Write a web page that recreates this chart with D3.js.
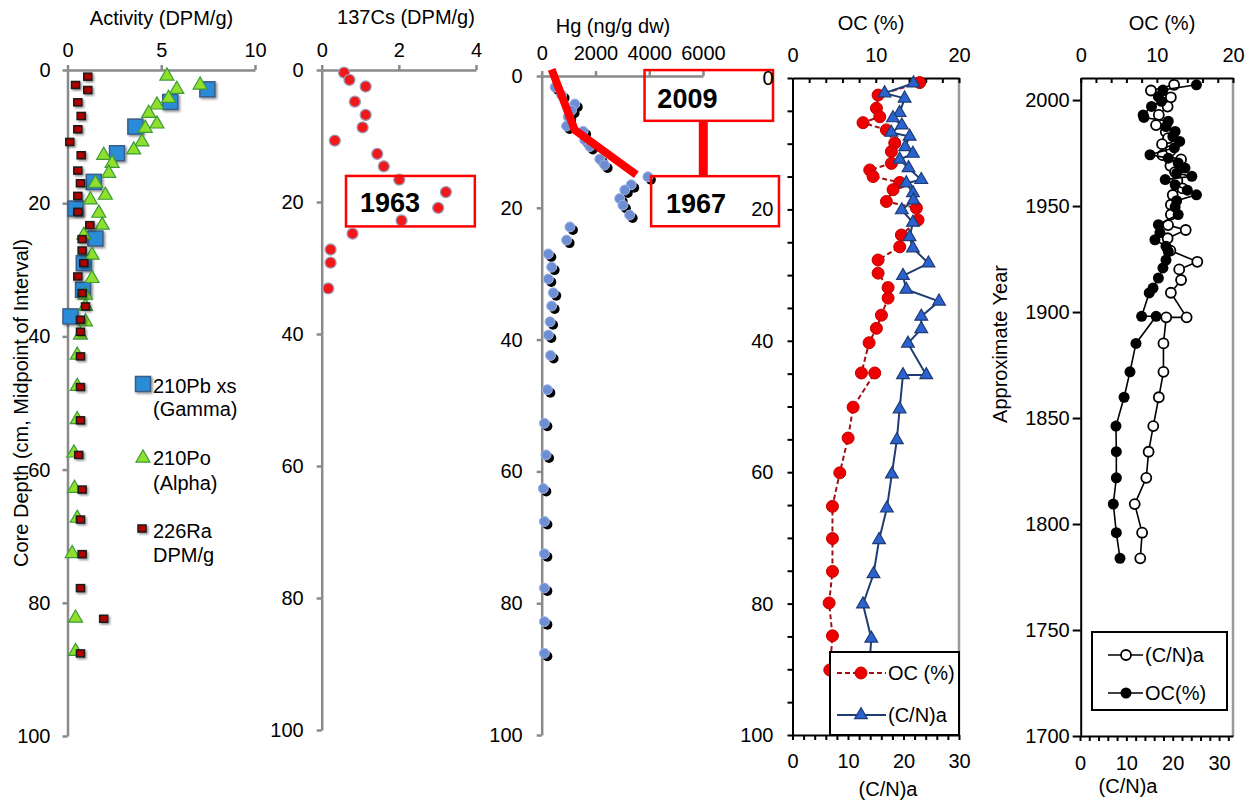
<!DOCTYPE html>
<html>
<head>
<meta charset="utf-8">
<script src="https://cdn.jsdelivr.net/npm/d3@7"></script>
<style>
  body { margin: 0; background: #fff; }
  svg { font-family: "Liberation Sans", Arial, sans-serif; }
</style>
</head>
<body>
<svg id="chart" width="1255" height="804"></svg>
<script>
// ---- data ----
// panel 1: activity vs depth
var pbDepth = [2.9, 4.8, 8.5, 12.5, 16.8, 20.8, 25.3, 29, 33, 37];
var pbAct = [7.46, 5.48, 3.62, 2.64, 1.40, 0.43, 1.49, 0.87, 0.83, 0.16];
var poDepth = [0.9, 2.25, 2.9, 4.25, 5.25, 6.5, 8.1, 8.75, 10.8, 12, 12.8, 14, 15.5, 17, 18.8, 19.5, 21.5, 23.3, 24.8, 27.8,
  31.3, 33.8, 35.5, 37.8, 39.8, 42.8, 47.5, 52.5, 57.5, 62.8, 67.3, 72.6, 82.3, 87.3];
var poAct = [5.30, 7.07, 5.83, 5.39, 4.77, 4.33, 4.77, 4.15, 3.97, 3.53, 1.93, 2.38, 2.20, 1.49, 2.02, 1.22, 1.67, 1.85, 0.87, 1.31,
  1.31, 0.96, 0.96, 0.96, 0.69, 0.52, 0.52, 0.52, 0.34, 0.37, 0.52, 0.25, 0.43, 0.43];
var raDepth = [1.0, 2.25, 3.0, 4.85, 6.9, 8.9, 10.8, 12.8, 15.1, 17, 18.9, 21.3, 23.3, 25.4, 27.1, 29, 31, 33.5, 35.5, 37.5,
  39.3, 43, 47.6, 52.6, 57.8, 63, 67.5, 72.7, 77.8, 82.4, 87.6];
var raAct = [1.08, 0.43, 1.08, 0.55, 0.73, 0.55, 0.12, 0.73, 0.55, 0.69, 0.55, 0.55, 1.19, 0.78, 0.78, 0.87, 0.55, 0.78, 0.96, 0.69,
  0.69, 0.69, 0.69, 0.69, 0.60, 0.78, 0.69, 0.78, 0.69, 1.93, 0.69];

// panel 2: 137Cs
var csDepth = [0.4, 1.5, 2.5, 4.8, 6.8, 8.7, 10.7, 12.7, 14.6, 16.6, 18.5, 20.9, 22.8, 24.8, 27.2, 29.2, 33.1];
var csAct = [0.58, 0.72, 1.14, 0.86, 1.14, 1.06, 0.34, 1.44, 1.61, 2.01, 3.22, 3.02, 2.07, 0.80, 0.23, 0.23, 0.17];

// panel 3: Hg
var hgDepth = [1.7, 2.9, 4.25, 5.2, 6.2, 7.6, 8.4, 9.7, 10.7, 12.6, 13.5, 15.3, 16.5, 17.3, 18.6, 19.6, 21.1, 22.9, 24.9, 27,
  29, 30.8, 32.9, 34.9, 37.3, 39.3, 42.4, 47.6, 52.7, 57.5, 62.6, 67.6, 72.5, 77.7, 82.8, 87.6];
var hgConc = [500, 740, 1230, 1110, 985, 925, 1540, 1600, 1790, 2160, 2340, 3950, 3330, 3090, 2900, 3020, 3270, 1050, 925, 245,
  370, 245, 430, 370, 310, 245, 330, 210, 100, 160, 60, 100, 100, 100, 100, 100];
var hgTrendConc = [370, 1230, 3520];
var hgTrendDepth = [-1, 8.2, 15];

// panel 4: OC and (C/N)a vs depth
var ocDepth = [0.7, 2.6, 4.6, 5.9, 6.8, 7.9, 9.9, 11.2, 13, 14, 15, 15.9, 17, 18.8, 19.8, 21.6, 23.9, 25.7, 27.7, 29.7,
  31.9, 33.5, 36.1, 38.1, 40.3, 44.9, 44.9, 50.1, 54.8, 60.1, 65.2, 70.1, 75.1, 79.9, 84.9, 90.1];
var ocPct = [15.28, 10.28, 10.08, 10.48, 8.47, 11.28, 12.28, 11.88, 11.88, 9.28, 9.68, 12.88, 12.08, 11.28, 14.88, 15.08, 13.08, 12.88, 10.28, 10.28,
  11.48, 11.48, 10.68, 10.08, 9.2, 8.28, 9.88, 7.28, 6.68, 5.68, 4.8, 4.8, 4.8, 4.4, 4.8, 4.48];
var cnDepth = [0.8, 2.3, 3.1, 5.3, 6.1, 7.2, 8.3, 8.9, 10.5, 11.5, 12.4, 13.7, 15.5, 16, 17.5, 18.6, 20.1, 22, 24.2, 25.9,
  28.2, 30.1, 32.2, 34, 36.3, 38.2, 40.4, 45.2, 45.2, 50.4, 55.1, 60.3, 65.5, 70.3, 75.5, 80.1, 85.3, 90.1];
var cnRatio = [21.8, 16.6, 20.2, 19.3, 18.1, 19.7, 17.8, 21.1, 20.3, 21.7, 19.3, 20.9, 23.2, 20.5, 21.7, 21.8, 19.7, 21.7, 21.1, 21.7,
  24.5, 19.9, 20.5, 26.4, 23.2, 23.2, 20.8, 24.1, 19.9, 19.3, 18.8, 17.9, 17.0, 15.6, 14.6, 12.7, 14.2, 13.8];

// panel 5: OC and (C/N)a vs approximate year
var ocYear = [2007.2, 2004.7, 2001.6, 1999.4, 1997.0, 1993.0, 1991.8, 1990.0, 1987.5, 1985.2, 1982.8, 1980.5, 1977.5, 1974.2, 1972.6,
  1970.3, 1967.9, 1965.5, 1964.0, 1962.5, 1960.0, 1957.5, 1955.3, 1952.5, 1949.5, 1946.0, 1941.2, 1937.5, 1934.1, 1931.0,
  1928.6, 1924.5, 1920.8, 1916.0, 1911.3, 1909.0, 1898.0, 1898.0, 1885.2, 1871.8, 1859.8, 1846.2, 1834.1, 1821.8, 1809.4, 1795.9, 1783.8];
var ocYearPct = [15.2, 10.8, 10.2, 10.6, 9.3, 8.2, 8.3, 11.5, 11.2, 12.4, 12.1, 13.0, 12.3, 9.1, 11.5,
  12.8, 13.7, 12.6, 14.6, 11.1, 12.4, 14.0, 15.2, 12.6, 12.4, 12.8, 10.2, 10.4, 9.75, 11.2,
  11.5, 11.2, 10.8, 10.2, 9.5, 9.0, 8.0, 9.9, 7.26, 6.47, 5.7, 4.63, 4.68, 4.68, 4.28, 4.68, 5.16];
var cnYear = [2007.2, 2004.5, 2001.3, 1996.9, 1993.0, 1988.2, 1985.0, 1982.0, 1979.2, 1976.0, 1974.0, 1972.0, 1969.0, 1966.0, 1962.0,
  1958.3, 1955.2, 1950.6, 1946.0, 1941.0, 1938.7, 1934.8, 1929.0, 1923.7, 1920.1, 1915.1, 1909.1, 1897.5, 1897.5, 1885.2,
  1871.8, 1859.8, 1846.2, 1834.1, 1821.8, 1809.4, 1795.9, 1783.8];
var cnYearRatio = [20.3, 15.3, 19.6, 18.9, 17.0, 16.4, 18.5, 19.0, 17.7, 19.5, 17.8, 21.8, 19.5, 20.5, 21.0,
  22.1, 20.0, 19.6, 19.6, 19.0, 22.8, 18.9, 19.5, 25.3, 21.4, 21.8, 19.6, 23.0, 18.6, 18.0,
  18.0, 17.0, 15.8, 14.8, 14.3, 11.8, 13.4, 13.0];

var depthTicks = [0, 20, 40, 60, 80, 100];

// ---- helpers ----
var svg = d3.select('#chart');
var FONT = 'Liberation Sans, Arial, sans-serif';
var plain = d3.format('d');

svg.append('defs').append('filter').attr('id', 'shadow')
  .attr('x', '-50%').attr('y', '-50%').attr('width', '200%').attr('height', '200%')
  .append('feDropShadow').attr('dx', 1.5).attr('dy', 1.5).attr('stdDeviation', 1)
  .attr('flood-color', '#000').attr('flood-opacity', 0.45);

function zip(a, b) {
  return a.map(function(v, i) { return [v, b[i]]; });
}

function styleAxis(g, color, width) {
  g.attr('font-size', 20).attr('font-family', FONT);
  g.select('.domain').attr('stroke', color).attr('stroke-width', width);
  g.selectAll('.tick line').attr('stroke', color).attr('stroke-width', width);
  g.selectAll('.tick text').attr('fill', '#000');
}

function label(txt, x, y, opts) {
  opts = opts || {};
  var t = svg.append('text').text(txt)
    .attr('x', x).attr('y', y)
    .attr('font-size', opts.size || 20)
    .attr('font-weight', opts.weight || 'normal')
    .attr('text-anchor', opts.anchor || 'middle')
    .attr('fill', '#000');
  if (opts.rotate) t.attr('x', 0).attr('y', 0).attr('transform', 'translate(' + x + ',' + y + ') rotate(-90)');
  return t;
}

// ---- panel 1: Activity ----
var x1 = d3.scaleLinear().domain([0, 10]).range([67.5, 255]);
var y1 = d3.scaleLinear().domain([0, 100]).range([70, 736]);

svg.append('g').attr('transform', 'translate(0,' + y1(0) + ')')
  .call(d3.axisTop(x1).tickValues([0, 5, 10]).tickFormat(plain).tickSize(5).tickSizeOuter(0).tickPadding(8))
  .call(styleAxis, '#8a8a8a', 2.5);
svg.append('g').attr('transform', 'translate(' + x1(0) + ',0)')
  .call(d3.axisLeft(y1).tickValues(depthTicks).tickFormat(plain).tickSize(5).tickSizeOuter(0).tickPadding(12))
  .call(styleAxis, '#8a8a8a', 2.5);

var tri = d3.symbol().type(d3.symbolTriangle);

svg.append('g').selectAll('rect').data(zip(pbAct, pbDepth)).enter().append('rect')
  .attr('x', function(d) { return x1(d[0]) - 7.5; })
  .attr('y', function(d) { return y1(d[1]) - 7.5; })
  .attr('width', 15).attr('height', 15)
  .attr('fill', '#2b8bd6').attr('stroke', '#3a5c88').attr('stroke-width', 1.5)
  .attr('filter', 'url(#shadow)');

svg.append('g').selectAll('path').data(zip(poAct, poDepth)).enter().append('path')
  .attr('d', tri.size(85)())
  .attr('transform', function(d) { return 'translate(' + x1(d[0]) + ',' + y1(d[1]) + ')'; })
  .attr('fill', '#8fe02c').attr('stroke', '#3c9a3a').attr('stroke-width', 1.2);

svg.append('g').selectAll('rect').data(zip(raAct, raDepth)).enter().append('rect')
  .attr('x', function(d) { return x1(d[0]) - 4; })
  .attr('y', function(d) { return y1(d[1]) - 3.5; })
  .attr('width', 8).attr('height', 7)
  .attr('fill', '#b30000').attr('stroke', '#1a1a1a').attr('stroke-width', 1.5)
  .attr('filter', 'url(#shadow)');

label('Activity (DPM/g)', 161.5, 25);
label('Core Depth (cm, Midpoint of Interval)', 28, 403, { rotate: true });

// legend of panel 1
svg.append('rect').attr('x', 135.5).attr('y', 376.5).attr('width', 15).attr('height', 15)
  .attr('fill', '#2b8bd6').attr('stroke', '#3a5c88').attr('stroke-width', 1.5).attr('filter', 'url(#shadow)');
svg.append('path').attr('d', tri.size(85)()).attr('transform', 'translate(143,458)')
  .attr('fill', '#8fe02c').attr('stroke', '#3c9a3a').attr('stroke-width', 1.2);
svg.append('rect').attr('x', 138).attr('y', 525).attr('width', 8).attr('height', 7)
  .attr('fill', '#b30000').attr('stroke', '#1a1a1a').attr('stroke-width', 1.5).attr('filter', 'url(#shadow)');
label('210Pb xs', 153, 393, { anchor: 'start' });
label('(Gamma)', 153, 416, { anchor: 'start' });
label('210Po', 153, 465, { anchor: 'start' });
label('(Alpha)', 153, 490, { anchor: 'start' });
label('226Ra', 153, 538, { anchor: 'start' });
label('DPM/g', 153, 562, { anchor: 'start' });

// ---- panel 2: 137Cs ----
var x2 = d3.scaleLinear().domain([0, 4]).range([321.7, 476]);
var y2 = d3.scaleLinear().domain([0, 100]).range([70, 730]);

svg.append('g').attr('transform', 'translate(0,' + y2(0) + ')')
  .call(d3.axisTop(x2).tickValues([0, 2, 4]).tickFormat(plain).tickSize(5).tickSizeOuter(0).tickPadding(8))
  .call(styleAxis, '#8a8a8a', 2.5);
svg.append('g').attr('transform', 'translate(' + x2(0) + ',0)')
  .call(d3.axisLeft(y2).tickValues(depthTicks).tickFormat(plain).tickSize(5).tickSizeOuter(0).tickPadding(13))
  .call(styleAxis, '#8a8a8a', 2.5);

svg.append('g').selectAll('circle').data(zip(csAct, csDepth)).enter().append('circle')
  .attr('cx', function(d) { return x2(d[0]); })
  .attr('cy', function(d) { return y2(d[1]); })
  .attr('r', 5.5)
  .attr('fill', '#f01818').attr('stroke', '#9c9cbc').attr('stroke-width', 1.3);

svg.append('rect')
  .attr('x', x2(0.63)).attr('y', y2(16.05))
  .attr('width', x2(3.97) - x2(0.63)).attr('height', y2(23.7) - y2(16.05))
  .attr('fill', 'none').attr('stroke', '#ff0000').attr('stroke-width', 2.5);
label('1963', x2(1.77), y2(21.5), { size: 27, weight: 'bold' });

label('137Cs (DPM/g)', 406, 24);

// ---- panel 3: Hg ----
var x3 = d3.scaleLinear().domain([0, 6000]).range([541.7, 703]);
var y3 = d3.scaleLinear().domain([0, 100]).range([76, 735]);

svg.append('g').attr('transform', 'translate(0,' + y3(0) + ')')
  .call(d3.axisTop(x3).tickValues([0, 2000, 4000, 6000]).tickFormat(plain).tickSize(5).tickSizeOuter(0).tickPadding(11))
  .call(styleAxis, '#8a8a8a', 2.5);
svg.append('g').attr('transform', 'translate(' + x3(0) + ',0)')
  .call(d3.axisLeft(y3).tickValues(depthTicks).tickFormat(plain).tickSize(5).tickSizeOuter(0).tickPadding(14))
  .call(styleAxis, '#8a8a8a', 2.5);

var hgData = zip(hgConc, hgDepth);
svg.append('g').selectAll('circle').data(hgData).enter().append('circle')
  .attr('cx', function(d) { return x3(d[0]) + 3; })
  .attr('cy', function(d) { return y3(d[1]) + 3; })
  .attr('r', 5).attr('fill', '#000');
svg.append('g').selectAll('circle').data(hgData).enter().append('circle')
  .attr('cx', function(d) { return x3(d[0]); })
  .attr('cy', function(d) { return y3(d[1]); })
  .attr('r', 5).attr('fill', '#6e8ed4').attr('stroke', '#a3b6e6').attr('stroke-width', 1);

svg.append('path').datum(zip(hgTrendConc, hgTrendDepth))
  .attr('d', d3.line().x(function(d) { return x3(d[0]); }).y(function(d) { return y3(d[1]); }))
  .attr('fill', 'none').attr('stroke', '#ff0000').attr('stroke-width', 8);

// 2009 / 1967 annotation
svg.append('rect')
  .attr('x', x3(3826)).attr('y', y3(-0.9))
  .attr('width', x3(8604) - x3(3826)).attr('height', y3(6.8) - y3(-0.9))
  .attr('fill', 'none').attr('stroke', '#ff0000').attr('stroke-width', 2.5);
svg.append('rect')
  .attr('x', x3(4070)).attr('y', y3(15.2))
  .attr('width', x3(8826) - x3(4070)).attr('height', y3(22.8) - y3(15.2))
  .attr('fill', 'none').attr('stroke', '#ff0000').attr('stroke-width', 2.5);
svg.append('line')
  .attr('x1', x3(6011)).attr('x2', x3(6011)).attr('y1', y3(6.8)).attr('y2', y3(15.2))
  .attr('stroke', '#ff0000').attr('stroke-width', 9);
label('2009', x3(5420), y3(4.85), { size: 27, weight: 'bold' });
label('1967', x3(5740), y3(20.8), { size: 27, weight: 'bold' });

label('Hg (ng/g dw)', 613, 33);

// ---- panel 4: OC / (C/N)a vs depth ----
var xo4 = d3.scaleLinear().domain([0, 20]).range([792.5, 959]);
var xc4 = d3.scaleLinear().domain([0, 30]).range([792.5, 959]);
var y4 = d3.scaleLinear().domain([0, 100]).range([78, 735]);

svg.append('line').attr('x1', 959).attr('x2', 959).attr('y1', y4(0)).attr('y2', y4(100))
  .attr('stroke', '#999').attr('stroke-width', 2.5);
svg.append('g').attr('transform', 'translate(0,' + y4(0) + ')')
  .call(d3.axisTop(xo4).tickValues(d3.range(0, 21, 2)).tickFormat(function(d) { return d % 10 === 0 ? d : ''; })
    .tickSize(-5).tickSizeOuter(0).tickPadding(16))
  .call(styleAxis, '#000', 2);
svg.append('g').attr('transform', 'translate(0,' + y4(100) + ')')
  .call(d3.axisBottom(xc4).tickValues(d3.range(0, 31, 2)).tickFormat(function(d) { return d % 10 === 0 ? d : ''; })
    .tickSize(5).tickSizeOuter(0).tickPadding(14))
  .call(styleAxis, '#000', 2);
svg.append('g').attr('transform', 'translate(' + xo4(0) + ',0)')
  .call(d3.axisLeft(y4).tickValues(d3.range(0, 101, 5)).tickFormat(function(d) { return d % 20 === 0 ? d : ''; })
    .tickSize(5).tickSizeOuter(0).tickPadding(14))
  .call(styleAxis, '#000', 2);

var ocData4 = zip(ocPct, ocDepth);
svg.append('path').datum(ocData4)
  .attr('d', d3.line().x(function(d) { return xo4(d[0]); }).y(function(d) { return y4(d[1]); }))
  .attr('fill', 'none').attr('stroke', '#a01010').attr('stroke-width', 2).attr('stroke-dasharray', '5,3');
svg.append('g').selectAll('circle').data(ocData4).enter().append('circle')
  .attr('cx', function(d) { return xo4(d[0]); })
  .attr('cy', function(d) { return y4(d[1]); })
  .attr('r', 6).attr('fill', '#ee0000').attr('stroke', '#c00000').attr('stroke-width', 1);

var cnData4 = zip(cnRatio, cnDepth);
svg.append('path').datum(cnData4)
  .attr('d', d3.line().x(function(d) { return xc4(d[0]); }).y(function(d) { return y4(d[1]); }))
  .attr('fill', 'none').attr('stroke', '#1f3d73').attr('stroke-width', 2);
svg.append('g').selectAll('path').data(cnData4).enter().append('path')
  .attr('d', tri.size(70)())
  .attr('transform', function(d) { return 'translate(' + xc4(d[0]) + ',' + y4(d[1]) + ')'; })
  .attr('fill', '#2a62d0').attr('stroke', '#1f3d73').attr('stroke-width', 1.2);

// legend panel 4
svg.append('rect').attr('x', 830).attr('y', 652).attr('width', 129).attr('height', 83)
  .attr('fill', '#fff').attr('stroke', '#000').attr('stroke-width', 2);
svg.append('line').attr('x1', 837).attr('x2', 886).attr('y1', 673).attr('y2', 673)
  .attr('stroke', '#a01010').attr('stroke-width', 2).attr('stroke-dasharray', '5,3');
svg.append('circle').attr('cx', 861).attr('cy', 673).attr('r', 6)
  .attr('fill', '#ee0000').attr('stroke', '#c00000');
svg.append('line').attr('x1', 837).attr('x2', 886).attr('y1', 715).attr('y2', 715)
  .attr('stroke', '#1f3d73').attr('stroke-width', 2);
svg.append('path').attr('d', tri.size(70)()).attr('transform', 'translate(861,715)')
  .attr('fill', '#2a62d0').attr('stroke', '#1f3d73').attr('stroke-width', 1.2);
label('OC (%)', 888, 680, { anchor: 'start' });
label('(C/N)a', 888, 722, { anchor: 'start' });

label('OC (%)', 871, 30);
label('(C/N)a', 888, 796);

// ---- panel 5: OC / (C/N)a vs year ----
var xo5 = d3.scaleLinear().domain([0, 20]).range([1080.7, 1233]);
var xc5 = d3.scaleLinear().domain([0, 33]).range([1080, 1233]);
var y5 = d3.scaleLinear().domain([1700, 2010.4]).range([736, 78]);

svg.append('line').attr('x1', 1233).attr('x2', 1233).attr('y1', 78).attr('y2', 736)
  .attr('stroke', '#999').attr('stroke-width', 2.5);
svg.append('g').attr('transform', 'translate(0,78)')
  .call(d3.axisTop(xo5).tickValues(d3.range(0, 21, 2)).tickFormat(function(d) { return d % 10 === 0 ? d : ''; })
    .tickSize(-5).tickSizeOuter(0).tickPadding(16))
  .call(styleAxis, '#000', 2);
svg.append('g').attr('transform', 'translate(0,736)')
  .call(d3.axisBottom(xc5).tickValues(d3.range(0, 34, 2)).tickFormat(function(d) { return d % 10 === 0 ? d : ''; })
    .tickSize(5).tickSizeOuter(0).tickPadding(15))
  .call(styleAxis, '#000', 2);
svg.append('g').attr('transform', 'translate(' + xo5(0) + ',0)')
  .call(d3.axisLeft(y5).tickValues(d3.range(1700, 2001, 50)).tickFormat(plain)
    .tickSize(8).tickSizeOuter(0).tickPadding(3))
  .call(styleAxis, '#000', 2);

var cnData5 = zip(cnYearRatio, cnYear);
svg.append('path').datum(cnData5)
  .attr('d', d3.line().x(function(d) { return xc5(d[0]); }).y(function(d) { return y5(d[1]); }))
  .attr('fill', 'none').attr('stroke', '#000').attr('stroke-width', 1.6);
svg.append('g').selectAll('circle').data(cnData5).enter().append('circle')
  .attr('cx', function(d) { return xc5(d[0]); })
  .attr('cy', function(d) { return y5(d[1]); })
  .attr('r', 5).attr('fill', '#fff').attr('stroke', '#000').attr('stroke-width', 1.8);

var ocData5 = zip(ocYearPct, ocYear);
svg.append('path').datum(ocData5)
  .attr('d', d3.line().x(function(d) { return xo5(d[0]); }).y(function(d) { return y5(d[1]); }))
  .attr('fill', 'none').attr('stroke', '#000').attr('stroke-width', 1.6);
svg.append('g').selectAll('circle').data(ocData5).enter().append('circle')
  .attr('cx', function(d) { return xo5(d[0]); })
  .attr('cy', function(d) { return y5(d[1]); })
  .attr('r', 5.5).attr('fill', '#000');

// legend panel 5
svg.append('rect').attr('x', 1092).attr('y', 632).attr('width', 135).attr('height', 78)
  .attr('fill', '#fff').attr('stroke', '#000').attr('stroke-width', 2);
svg.append('line').attr('x1', 1108).attr('x2', 1143).attr('y1', 655).attr('y2', 655)
  .attr('stroke', '#000').attr('stroke-width', 1.6);
svg.append('circle').attr('cx', 1126).attr('cy', 655).attr('r', 5)
  .attr('fill', '#fff').attr('stroke', '#000').attr('stroke-width', 1.8);
svg.append('line').attr('x1', 1108).attr('x2', 1143).attr('y1', 693).attr('y2', 693)
  .attr('stroke', '#000').attr('stroke-width', 1.6);
svg.append('circle').attr('cx', 1126).attr('cy', 693).attr('r', 5.5).attr('fill', '#000');
label('(C/N)a', 1145, 662, { anchor: 'start' });
label('OC(%)', 1145, 700, { anchor: 'start' });

label('OC (%)', 1162, 30);
label('(C/N)a', 1128, 793);
label('Approximate Year', 1007, 344, { rotate: true });
</script>
</body>
</html>
